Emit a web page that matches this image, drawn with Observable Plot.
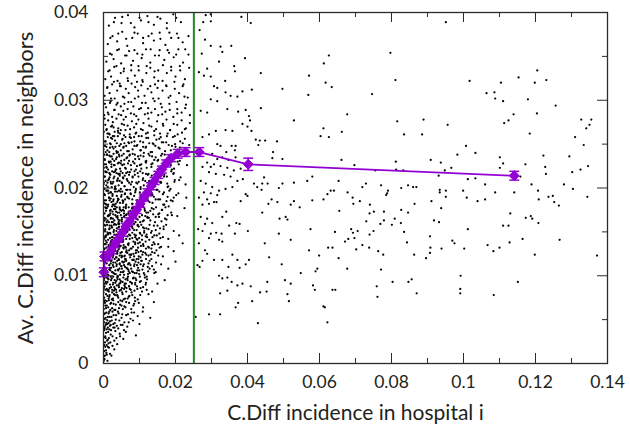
<!DOCTYPE html>
<html><head><meta charset="utf-8">
<script src="https://cdn.jsdelivr.net/npm/d3@7"></script>
<script src="https://cdn.jsdelivr.net/npm/@observablehq/plot@0.6"></script>
<style>html,body{margin:0;padding:0;background:#fff}</style>
</head><body><div id="chart"></div>
<script>
// Axis ticks
const xTicksMajor = [0, 0.02, 0.04, 0.06, 0.08, 0.1, 0.12, 0.14];
const xTicksMinor = [0.01, 0.03, 0.05, 0.07, 0.09, 0.11, 0.13];
const yTicksMajor = [0, 0.01, 0.02, 0.03, 0.04];
const yTicksMinor = [0.005, 0.015, 0.025, 0.035];
const xTitle = "C.Diff incidence in hospital i";
const yTitle = "Av. C.Diff incidence in neighbors";
const threshold = 0.0251;

// Binned means (units of 1e-4)
const binX   = [1, 3, 12, 22, 32, 42, 52, 62, 72, 82, 92, 102, 112, 122, 132, 142, 152, 162, 174, 188, 206, 228, 266, 402, 1141];
const binY   = [104, 122, 123, 129, 136, 142, 149, 156, 162, 169, 175, 182, 189, 195, 202, 208, 215, 221, 228, 234, 239, 241, 241, 227, 214];
const binErr = [5, 5, 4, 4, 4, 4, 4, 4, 4, 4, 4, 4, 4, 4, 4, 4, 4, 4, 4, 4, 5, 5, 5, 7, 5];

// Hospital scatter, "x,y" pairs in units of 1e-4
const cloudDense = `3,5 8,12 15,18 2,14 22,9 5,19 11,3 30,16 1,8 18,11
4,24 12,27 25,31 7,35 38,22 2,38 16,39 30,26 45,34 9,21 20,33 55,28 1,30 14,23 33,37 62,36 6,29 90,32
3,42 10,45 18,48 27,41 35,55 48,44 6,52 14,57 22,53 40,59 58,47 75,51 2,47 31,46 52,56 12,41 20,44 66,42 85,58 8,58 44,49 100,45 25,59 37,43 130,52
1,62 5,66 9,71 13,64 17,78 21,69 26,74 30,61 34,67 39,77 43,63 47,72 53,79 58,65 63,70 70,76 77,62 85,68 95,73 110,64 125,79 140,70 2,75 7,79 15,72 24,63 32,78 41,70 50,66 60,74 80,78 4,69 11,77 19,61 28,68
0,81 3,88 6,93 9,85 12,97 15,82 18,90 21,95 24,84 27,99 30,87 33,92 36,81 39,96 42,89 45,83 48,94 51,86 55,98 59,91 63,82 67,95 71,88 76,84 82,97 88,90 94,85 101,93 110,87 120,99 135,82 150,91 170,95 2,97 8,91 14,84 20,99 26,90 32,85 38,98 44,91 52,81 60,87 68,99 78,92
1,103 4,115 7,108 10,119 13,101 16,112 19,106 22,117 25,104 28,110 31,119 34,102 37,113 40,107 43,118 46,101 49,111 52,116 56,105 60,119 64,109 68,102 72,114 77,108 82,118 87,103 93,112 99,106 106,117 114,101 123,110 133,119 145,104 160,113 180,108 200,116 3,110 9,102 15,118 21,109 27,115 33,106 39,100 45,114 51,108 57,112 63,117 70,105 85,111 97,119
0,125 3,131 6,122 9,138 12,127 15,133 18,121 21,139 24,129 27,124 30,135 33,128 36,121 39,137 42,130 45,123 48,134 51,127 54,139 58,122 62,132 66,126 70,137 74,121 78,131 83,125 88,138 93,129 98,122 104,134 110,127 117,139 125,123 133,131 142,126 152,136 165,122 180,133 195,128 220,137 2,136 8,124 14,130 20,135 26,121 32,139 38,126 44,132 50,121 56,135 64,129 72,124
1,143 4,151 7,146 10,158 13,141 16,153 19,148 22,157 25,144 28,150 31,159 34,142 37,154 40,147 43,156 46,141 49,152 52,145 55,158 59,149 63,142 67,155 71,147 75,159 80,143 85,152 90,146 95,157 101,149 107,141 113,154 120,147 128,158 136,144 145,152 155,148 167,156 180,142 195,151 210,146 2,158 6,140 12,149 18,143 24,155 30,147 36,151 44,159 54,144 66,150 78,156 92,142
0,162 3,171 6,165 9,177 12,168 15,161 18,174 21,166 24,179 27,170 30,163 33,176 36,167 39,172 42,161 45,178 48,169 51,164 54,175 58,168 62,179 66,162 70,173 74,166 79,177 84,170 89,161 94,175 100,167 106,178 112,163 119,172 126,166 134,177 143,161 152,170 162,175 175,164 188,172 205,168 225,177 5,178 11,163 17,169 23,161 29,176 35,173 41,164 47,175 57,171
1,183 4,192 7,186 10,197 13,181 16,189 19,195 22,184 25,193 28,187 31,199 34,182 37,191 40,186 43,197 46,183 49,190 52,196 55,185 59,193 63,181 67,198 71,188 75,194 80,182 85,191 90,199 95,186 101,195 107,183 113,190 120,197 128,184 136,192 145,187 155,196 166,181 178,190 192,185 208,194 230,189 3,199 8,181 14,194 20,188 26,181 32,196 38,184 48,199 60,187
0,204 3,213 6,208 9,218 12,201 15,210 18,216 21,205 24,219 27,207 30,213 33,202 36,217 39,209 42,203 45,214 48,219 51,206 55,211 59,202 63,217 67,208 71,215 76,204 81,212 86,219 91,206 97,213 103,201 109,217 116,208 123,215 131,203 139,211 148,218 158,206 168,213 180,202 194,216 210,209 228,204 5,219 11,206 17,212 23,201 29,218 40,211 53,217
1,223 4,232 7,227 10,238 13,221 16,229 19,236 22,224 25,233 28,239 31,226 34,221 37,235 40,228 43,238 46,222 49,231 52,226 56,239 60,223 64,234 68,228 72,237 77,221 82,230 87,238 93,225 99,233 105,222 111,236 118,229 125,239 133,224 141,232 150,221 160,237 171,227 183,234 196,222 212,231 232,226 2,238 8,224 20,230 35,233
0,244 4,253 8,247 12,258 16,241 20,250 24,256 28,245 32,254 36,242 40,259 44,248 48,243 52,255 56,247 61,258 66,242 71,251 76,257 81,244 86,253 92,248 98,259 104,243 110,252 117,246 124,257 131,241 139,250 147,255 156,245 166,252 176,259 187,243 199,250 212,246 226,256 238,249 6,241 18,246 30,259 58,251
1,264 5,272 9,267 13,277 17,261 21,270 26,275 31,264 36,279 41,268 46,262 51,273 56,278 61,266 67,271 73,261 79,276 85,269 91,263 97,278 104,267 111,274 118,262 125,279 133,270 141,265 149,276 157,262 166,271 175,278 185,266 195,273 206,261 217,277 229,268 240,274 3,279 15,262 28,269 48,266
2,283 7,292 12,286 18,297 24,281 30,289 36,295 42,284 48,293 55,288 62,281 69,298 76,285 83,293 91,282 99,290 107,297 115,284 124,291 133,286 142,299 152,283 162,292 172,287 183,296 194,281 205,290 217,286 229,295 240,283 20,299 58,296
3,305 10,314 17,308 24,318 31,302 38,311 46,316 54,304 62,313 70,308 78,319 87,302 96,311 105,317 114,305 123,313 133,309 143,318 153,302 164,311 175,316 186,305 198,313 210,308 222,318 234,303 45,319 150,314
5,324 13,333 21,327 30,338 39,322 48,331 57,336 67,325 77,334 87,328 97,339 108,323 119,331 130,337 141,326 152,334 164,322 176,331 188,338 200,327 213,334 226,324 238,337 93,321
8,344 18,353 28,347 38,357 49,342 60,351 71,356 82,345 94,353 106,348 118,358 130,343 143,351 156,357 169,346 182,354 195,349 208,358 221,343 236,352
12,364 25,373 38,367 52,378 66,362 80,371 95,376 110,365 125,373 140,368 156,377 172,363 188,371 204,376 220,366 236,373
15,385 32,394 50,388 68,397 86,383 104,391 122,396 140,386 158,393 176,382 194,398 215,389`;

const cloudCore = `2,71 14,74 27,72 41,75 56,73 72,77 88,71
5,84 17,86 29,83 43,87 57,85 71,88 86,83 103,86 120,84
1,95 11,93 23,97 35,94 47,92 61,96 74,93 89,97 104,94 118,92
4,104 16,107 28,103 41,106 54,104 66,108 79,105 92,103 108,107 124,105 141,103
0,116 9,114 21,117 33,115 45,113 58,116 70,114 84,118 97,115 112,113 128,117 146,115
3,126 15,124 26,128 38,125 50,123 63,127 76,124 90,126 104,128 119,124 135,127 152,123
6,136 18,133 30,137 43,134 55,132 68,136 82,133 96,137 111,134 126,132 142,136 160,133
1,145 12,148 24,144 36,147 49,145 61,149 74,146 88,144 102,148 117,145 132,149 148,146 165,144
5,157 17,154 29,158 42,155 54,153 67,157 81,154 95,158 110,155 125,153 140,157 157,154 174,158
2,166 14,169 26,165 39,168 51,166 64,170 78,167 92,165 107,169 122,166 138,170 154,167 171,165 190,169
7,177 20,175 32,179 45,176 57,174 70,178 84,175 99,179 114,176 130,174 146,178 163,175 181,179
3,186 15,189 27,185 40,188 53,186 66,190 80,187 94,185 109,189 124,186 140,190 157,187 175,185 195,189
8,197 21,195 34,199 47,196 60,194 74,198 88,195 103,199 118,196 134,194 150,198 168,195 186,199
1,206 13,209 25,205 38,208 51,206 65,210 79,207 94,205 109,209 125,206 141,210 159,207 177,205 198,209
6,218 19,215 32,219 45,216 59,214 73,218 87,215 102,219 118,216 134,214 151,218 169,215 188,219
2,227 15,230 29,226 43,229 57,227 71,231 86,228 101,226 117,230 133,227 150,231 168,228 187,226 206,230
9,238 23,236 37,240 51,237 66,235 81,239 96,236 112,240 128,237 145,235 163,239 182,236 201,240
4,248 18,251 33,247 48,250 63,248 78,252 94,249 110,247 127,251 144,248 162,252 181,249 200,247 220,251
11,262 26,259 41,263 57,260 73,258 89,262 106,259 123,263 141,260 159,258 178,262 198,259 218,263`;

const cloudLow = `1,3 4,9 7,15 2,21 10,26 5,31 13,36 3,40 18,43 8,46 23,49 12,53 28,55 4,57 16,59 34,50 42,57 21,38 27,45 6,44 15,29 19,24 9,10 12,19 25,20 36,29 41,40 50,52 57,38 63,55 70,47 78,58 2,51 11,49 17,53 31,41 46,31 53,44 68,56 95,54 109,59 82,49 1,56 9,39 14,46
7,63 19,68 33,61 46,67 61,64 4,72 16,76 29,79 52,71 67,74 83,66 98,69 11,83 24,81 37,89 49,84 64,86 78,81 93,88 107,82 3,91 14,96 27,92 40,99 53,93 66,97 79,91 91,95 115,98 6,103 18,109 31,102 44,108 57,101 69,107 82,104 96,109 112,103 128,108 2,113 13,118 26,112 38,117 50,111 62,119 75,112 89,116 103,113 118,119 135,111
9,66 23,73 38,78 54,62 71,69 87,75 102,78 1,86 21,87 35,84 58,89 73,85 88,92 101,99 117,90 8,98 31,95 45,96 62,91 84,98 99,102 121,96 10,105 24,104 36,111 48,104 60,110 73,103 86,113 94,106 105,117 125,114 140,107 5,117 20,114 42,119 55,115 68,113 80,118 92,119 110,111`;

const cloudMid = `4,121 15,126 27,123 39,128 52,122 64,127 77,124 90,129 103,121 116,126 131,124 147,129 8,132 19,137 31,133 44,138 56,131 69,135 83,139 96,132 110,136 124,133 139,138 156,132 1,142 12,147 24,141 36,146 49,143 61,148 73,142 86,147 99,143 113,149 127,141 141,146 158,143 5,153 17,157 29,152 41,159 53,154 66,151 79,156 92,152 105,158 119,154 134,151 150,157 167,153 3,163 14,168 26,161 39,166 51,162 63,169 76,163 89,167 102,161 116,168 130,163 145,167 161,162 178,169 7,174 19,171 31,176 44,172 56,178 69,171 82,177 96,173 110,179 124,172 139,176 155,171 172,178
10,124 22,129 35,121 47,126 59,123 71,129 85,122 97,127 108,124 2,130 14,135 25,131 37,136 48,139 60,133 75,131 88,136 101,138 118,131 135,135 6,144 18,149 30,143 43,149 55,141 67,145 80,149 94,141 107,146 121,144 3,151 23,155 35,158 47,151 60,157 72,153 85,159 98,156 113,151 9,161 20,165 33,169 45,163 57,167 70,161 83,168 95,164 109,162 122,167 12,179 25,173 37,178 50,174 62,177 75,174 88,171 101,176 115,174
5,182 17,186 29,181 42,187 54,183 67,189 80,182 93,186 107,181 121,188 136,183 152,187 169,181 187,186 2,193 13,197 25,191 38,196 50,192 63,198 76,193 89,197 103,191 117,196 132,192 148,198 165,193 183,197 202,192 8,203 20,207 32,201 45,208 58,202 71,206 84,201 98,207 112,203 127,208 143,202 160,206 178,201 197,207 4,213 16,217 28,211 41,216 54,212 67,218 81,213 95,217 110,211 125,216 141,212 158,218 176,213 195,217 214,212
9,223 22,227 35,221 48,228 62,222 76,226 90,221 105,227 120,223 136,228 153,222 171,226 190,221 209,227 3,233 16,237 30,231 44,236 58,232 73,238 88,233 103,237 119,231 135,236 152,232 170,238 189,233 208,237 11,243 25,247 40,241 55,246 70,242 86,248 102,243 118,247 135,241 153,246 171,242 190,248 210,243 6,253 21,257 37,251 53,256 69,252 85,258 102,253 119,257 137,251 155,256 174,252 193,258 213,253`;

const cloudHigh = `8,266 24,271 40,265 57,272 74,267 91,273 109,266 127,271 146,267 165,273 185,266 205,272 226,267 14,284 31,289 49,283 67,290 85,284 104,291 123,285 143,290 163,284 184,289 205,285 227,291 4,296 21,302 39,297 58,303 77,298 97,304 117,297 138,302 159,296 181,303 203,298 225,304 11,315 29,321 48,316 68,322 88,315 109,321 130,316 152,322 174,317 197,321 220,316 17,334 36,339 56,333 77,340 98,334 120,339 142,333 165,340 188,334 212,339 23,352 43,358 64,351 86,357 108,352 131,358 154,351 178,357 202,352 227,358 19,371 41,376 63,370 86,377 110,371 134,376 158,370 183,377 208,371 29,389 52,395 76,388 100,394 125,389 150,395 176,388 202,394`;

const cloudSparse = `1205,334 1153,326 1230,323 1104,320 1198,320 1064,308 1086,309 1088,302 1110,299 1179,301 1256,294 1204,285 1139,284 1125,277 1113,274 1327,278 1355,278 1350,272 1341,268 1310,258 1184,262 1334,249 1033,240 1222,237 1101,235 1294,236 1110,228 1101,223 1172,227 1227,224 1346,225 1325,221 1302,218 1229,216 1158,213 1033,211 1060,204 1189,204 1279,204 1304,199 1207,197 1088,195 1141,195 1039,185 1060,187 1209,187 1236,190 1248,191 1252,184 1265,180 1344,190 1130,171 1173,166 1187,168 1191,165 1208,160 1110,157 1125,157 1164,142 1267,141 1128,138 1067,135 1100,132 1083,128 1198,124 1371,123 1151,93 1084,78
951,389 797,354 811,323 1017,322 746,307 677,284 816,276 889,278 956,272 662,264 835,261 885,261 1007,248 983,238 661,232 812,230 909,232 937,229 697,226 966,223 755,220 813,221 833,220 948,220 931,214 1012,210 653,208 729,205 719,201 771,203 846,203 860,201 869,201 827,200 790,197 788,194 785,192 934,198 951,197 999,197 678,195 934,195 951,190 1009,189 692,189 712,185 694,182 740,181 911,185 864,182 655,174 938,177 827,175 751,173 739,171 779,173 846,172 809,165 779,163 730,162 769,159 801,158 826,160 918,163 932,161 688,153 706,151 693,149 1012,153 835,150 750,151 739,147 680,142 697,143 671,139 843,138 907,145 969,140 975,137 719,135 738,132 702,130 908,132 939,131 1002,131 763,128 777,124 863,124 907,126 896,120 653,120 677,108 771,107 992,100 856,96 847,93 803,93 759,88 870,80 991,85 991,80 761,76 644,84
284,397 298,398 383,395 409,388 277,389 298,390 267,380 282,369 298,362 325,361 355,362 330,355 273,353 321,344 393,348 363,339 365,333 437,331 288,336 265,332 279,328 298,327 338,322 307,316 316,314 339,309 353,305 372,304 386,310 412,312 497,313 569,306 617,320 634,315 612,342 571,328 626,351 298,301 316,299 344,290 374,287 395,289 437,291 288,286 270,288 404,282 407,277 529,277 386,273 400,270 411,265 339,266 358,265 312,265 293,261 275,258 423,255 434,254 449,254 482,253 430,249 325,248 316,250 356,248 367,248 365,243 471,241 341,241 302,239 497,233 469,234 611,268 626,258 603,259 330,235 367,235 347,232 316,233 288,229 307,227 325,225 344,223 362,220 381,222 298,224 275,224 293,218 312,216 335,215 353,213 372,208 387,210 446,212 418,205 441,205 456,205 439,198 427,201 497,205 529,206 566,208 580,213 631,197 622,193 270,208 284,205 302,201 321,197 339,199 358,201 279,195 298,194 316,192 265,189 288,187 307,184 275,181 293,182 314,184 381,185 395,193 400,191 487,200 467,187 458,182 441,172 483,184 489,165 506,167 511,164 520,181 529,185 545,178 580,186 611,187 640,197 341,173 330,167 349,157 369,160 378,159 401,151 365,148 270,167 288,165 282,159 302,160 263,153 275,151 298,148 313,149 328,148 293,143 321,141 330,139 265,137 282,129 288,125 275,117 307,118 261,112 267,110 330,118 358,124 372,118 404,118 395,113 378,109 347,110 460,121 495,113 487,148 520,141 448,137 571,129 575,153 599,123 594,108 589,105 548,103 504,95 520,91 582,89 587,84 321,100 330,97 344,98 356,93 372,89 386,91 409,88 324,80 344,83 455,93 453,82 435,81 413,71 511,79 515,71 374,69 367,64 611,65 615,64 256,53 293,56 324,56 429,46 622,47 636,84 643,150 624,132 636,132`;

const parsePairs = s => s.trim().split(/\s+/).map(p => {
  const [a, b] = p.split(",");
  return {x: +a / 1e4, y: +b / 1e4};
});
const cloud = [cloudDense, cloudCore, cloudLow, cloudMid, cloudHigh, cloudSparse].flatMap(parsePairs);
const bins = binX.map((x, i) => ({x: x / 1e4, y: binY[i] / 1e4, e: binErr[i] / 1e4}));

const W = 630, H = 429, ML = 103, MR = 23, MT = 12, MB = 66;
const IW = W - ML - MR, IH = H - MT - MB;
const purple = "#9400d3";
const green = "#1f8b24";
const axisColor = "#2b2b2b";
const textColor = "#231f20";
const font = "Lato, 'Noto Sans', sans-serif";
const capSymbol = {draw(ctx, size) { const r = Math.sqrt(size / Math.PI); ctx.moveTo(-r, 0); ctx.lineTo(r, 0); }};

const chart = Plot.plot({
  width: W, height: H,
  marginLeft: ML, marginRight: MR, marginTop: MT, marginBottom: MB,
  x: {domain: [0, 0.14], axis: null},
  y: {domain: [0, 0.04], axis: null},
  style: {fontFamily: font, background: "#fff", overflow: "visible"},
  marks: [
    Plot.dot(cloud, {x: "x", y: "y", r: 1.12, fill: "#000", stroke: "none", clip: true}),
    Plot.ruleX([threshold], {x: d => d, stroke: green, strokeWidth: 2}),
    Plot.line(bins, {x: "x", y: "y", stroke: purple, strokeWidth: 1.8}),
    Plot.ruleX(bins, {x: "x", y1: d => d.y - d.e, y2: d => d.y + d.e, stroke: purple, strokeWidth: 1.5}),
    Plot.dot(bins, {x: "x", y: d => d.y + d.e, symbol: capSymbol, r: 5, stroke: purple, strokeWidth: 1.5, fill: "none"}),
    Plot.dot(bins, {x: "x", y: d => d.y - d.e, symbol: capSymbol, r: 5, stroke: purple, strokeWidth: 1.5, fill: "none"}),
    Plot.dot(bins, {x: "x", y: "y", r: 4.5, symbol: "diamond2", fill: purple, stroke: purple, strokeWidth: 1}),
    Plot.frame({stroke: axisColor, strokeWidth: 1.3}),
    // bottom / top ticks (inward)
    Plot.tickX(xTicksMajor, {x: d => d, insetTop: IH - 10, stroke: axisColor}),
    Plot.tickX(xTicksMinor, {x: d => d, insetTop: IH - 5, stroke: axisColor}),
    Plot.tickX(xTicksMajor, {x: d => d, insetBottom: IH - 10, stroke: axisColor}),
    Plot.tickX(xTicksMinor, {x: d => d, insetBottom: IH - 5, stroke: axisColor}),
    // left / right ticks (inward)
    Plot.tickY(yTicksMajor, {y: d => d, insetRight: IW - 10, stroke: axisColor}),
    Plot.tickY(yTicksMinor, {y: d => d, insetRight: IW - 5, stroke: axisColor}),
    Plot.tickY(yTicksMajor, {y: d => d, insetLeft: IW - 10, stroke: axisColor}),
    Plot.tickY(yTicksMinor, {y: d => d, insetLeft: IW - 5, stroke: axisColor}),
    // tick labels
    Plot.text(xTicksMajor, {x: d => d, text: d => String(d), frameAnchor: "bottom", dy: 19, lineAnchor: "middle", fontSize: 17.5, fill: textColor}),
    Plot.text(yTicksMajor, {y: d => d, text: d => String(d), frameAnchor: "left", dx: -15, textAnchor: "end", lineAnchor: "middle", fontSize: 17.5, fill: textColor}),
    // titles
    Plot.text([xTitle], {text: d => d, frameAnchor: "bottom", dy: 50, textAnchor: "middle", lineAnchor: "middle", fontSize: 21, fill: textColor}),
    Plot.text([yTitle], {text: d => d, frameAnchor: "left", dx: -78, rotate: -90, textAnchor: "middle", lineAnchor: "middle", fontSize: 22, fill: textColor})
  ]
});
document.getElementById("chart").appendChild(chart);
</script>
</body></html>
